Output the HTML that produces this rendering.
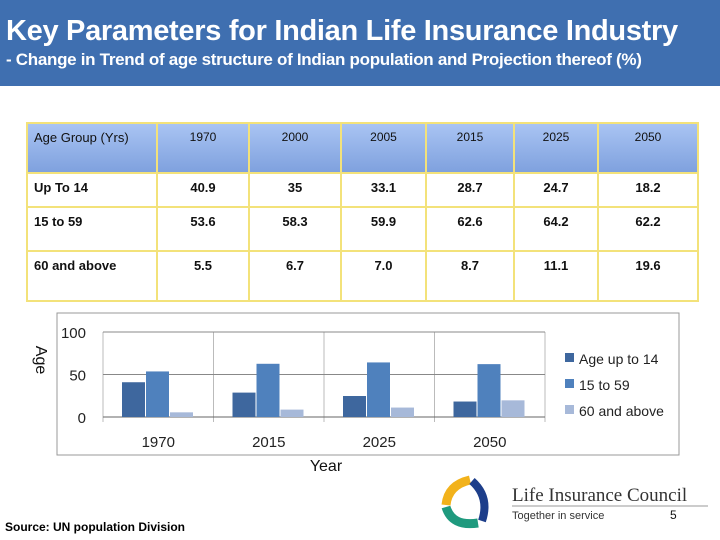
<!DOCTYPE html>
<html><head><meta charset="utf-8"><style>
body{margin:0;width:720px;height:540px;background:#fff;font-family:"Liberation Sans",sans-serif;position:relative;overflow:hidden}
#hdr{position:absolute;left:0;top:0;width:720px;height:86px;background:#3f6fb0}
#t1{position:absolute;left:6px;top:15px;color:#fff;font-weight:bold;font-size:29px;white-space:nowrap;letter-spacing:-0.3px}
#t2{position:absolute;left:6px;top:50px;color:#fff;font-size:17px;font-weight:bold;white-space:nowrap;letter-spacing:-0.3px}
table{position:absolute;left:26px;top:122px;border-collapse:collapse;font-size:13px;table-layout:fixed;width:671px}
td{border:2px solid #f3e27a;text-align:center;vertical-align:top;padding:6px 2px 0;font-weight:bold;color:#111;overflow:hidden}
td.l{text-align:left;padding-left:6px}
tr.h td{background:linear-gradient(#a9c4f3,#7fa1de);font-weight:normal;font-size:12px;height:42px}
</style></head><body>
<div id="hdr"></div>
<div id="t1">Key Parameters for Indian Life Insurance Industry</div>
<div id="t2">- Change in Trend of age structure of Indian population and Projection thereof (%)</div>
<table>
<colgroup><col style="width:130px"><col style="width:92px"><col style="width:92px"><col style="width:85px"><col style="width:88px"><col style="width:84px"><col style="width:100px"></colgroup>
<tr class="h"><td class="l" style="font-size:13px">Age Group (Yrs)</td><td>1970</td><td>2000</td><td>2005</td><td>2015</td><td>2025</td><td>2050</td></tr>
<tr style="height:34px"><td class="l">Up To 14</td><td>40.9</td><td>35</td><td>33.1</td><td>28.7</td><td>24.7</td><td>18.2</td></tr>
<tr style="height:44px"><td class="l">15 to 59</td><td>53.6</td><td>58.3</td><td>59.9</td><td>62.6</td><td>64.2</td><td>62.2</td></tr>
<tr style="height:50px"><td class="l">60 and above</td><td>5.5</td><td>6.7</td><td>7.0</td><td>8.7</td><td>11.1</td><td>19.6</td></tr>
</table>
<svg id="chart" width="720" height="540" style="position:absolute;left:0;top:0"></svg>
<div style="position:absolute;left:5px;top:520px;font-size:12px;font-weight:bold">Source: UN population Division</div>
<svg style="position:absolute;left:440px;top:475px" width="280" height="60">
<path d="M30 5 Q8 10 6 30" stroke="#f2b21b" stroke-width="9" fill="none"/>
<path d="M6 32 Q12 52 38 48" stroke="#1f9a7e" stroke-width="9" fill="none"/>
<path d="M32 6 Q50 22 42 46" stroke="#1d3e8a" stroke-width="8" fill="none"/>
<text x="72" y="26" font-family="Liberation Serif" font-size="19" fill="#333">Life Insurance Council</text>
<line x1="72" y1="31" x2="268" y2="31" stroke="#999"/>
<text x="72" y="44" font-size="11" fill="#333">Together in service</text>
<text x="230" y="44" font-size="12" fill="#111">5</text>
</svg>
<script>
const categories=["1970","2015","2025","2050"];
const seriesNames=["Age up to 14","15 to 59","60 and above"];
const s1=[40.9,28.7,24.7,18.2];
const s2=[53.6,62.6,64.2,62.2];
const s3=[5.5,8.7,11.1,19.6];
const yTicks=[0,50,100];
const colors=["#3e679e","#4f81bd","#a7b9d9"];
const NS="http://www.w3.org/2000/svg";
const svg=document.getElementById('chart');
function mk(t,a,txt){const e=document.createElementNS(NS,t);for(const k in a)e.setAttribute(k,a[k]);if(txt!=null)e.textContent=txt;svg.appendChild(e);return e;}
const x0=103,x1=545,y0=417,y1=332;
const y=v=>y0-(v/100)*(y0-y1);
const bw=(x1-x0)/categories.length;
const box=mk('rect',{x:57,y:313,width:622,height:142,fill:'#fff',stroke:'#999'});

for(let i=0;i<=categories.length;i++){const l=mk('line',{x1:x0+i*bw,x2:x0+i*bw,y1:y1,y2:y0+5,stroke:'#bbb'});
}
yTicks.forEach(t=>{const l=mk('line',{x1:x0,x2:x1,y1:y(t),y2:y(t),stroke:t?'#888':'#666'});

const tx=mk('text',{x:86,y:y(t)+6,'text-anchor':'end','font-size':15,fill:'#222'},t);
});
const series=[s1,s2,s3];
categories.forEach((c,i)=>{const cx=x0+i*bw;
series.forEach((s,j)=>{const r=mk('rect',{x:cx+19+j*24,y:y(s[i]),width:23,height:y0-y(s[i]),fill:colors[j]});
});
const t=mk('text',{x:cx+bw/2,y:447,'text-anchor':'middle','font-size':15,fill:'#222'},c);
});
seriesNames.forEach((n,j)=>{const r=mk('rect',{x:565,y:353+j*26,width:9,height:9,fill:colors[j]});

const t=mk('text',{x:579,y:364+j*26,'font-size':14,fill:'#222'},n);
});
const xt=mk('text',{x:326,y:471,'text-anchor':'middle','font-size':16,fill:'#111'},'Year');

const yt=mk('text',{x:0,y:0,'font-size':16,fill:'#111',transform:'translate(36,360) rotate(90)','text-anchor':'middle'},'Age');

</script>
</body></html>
